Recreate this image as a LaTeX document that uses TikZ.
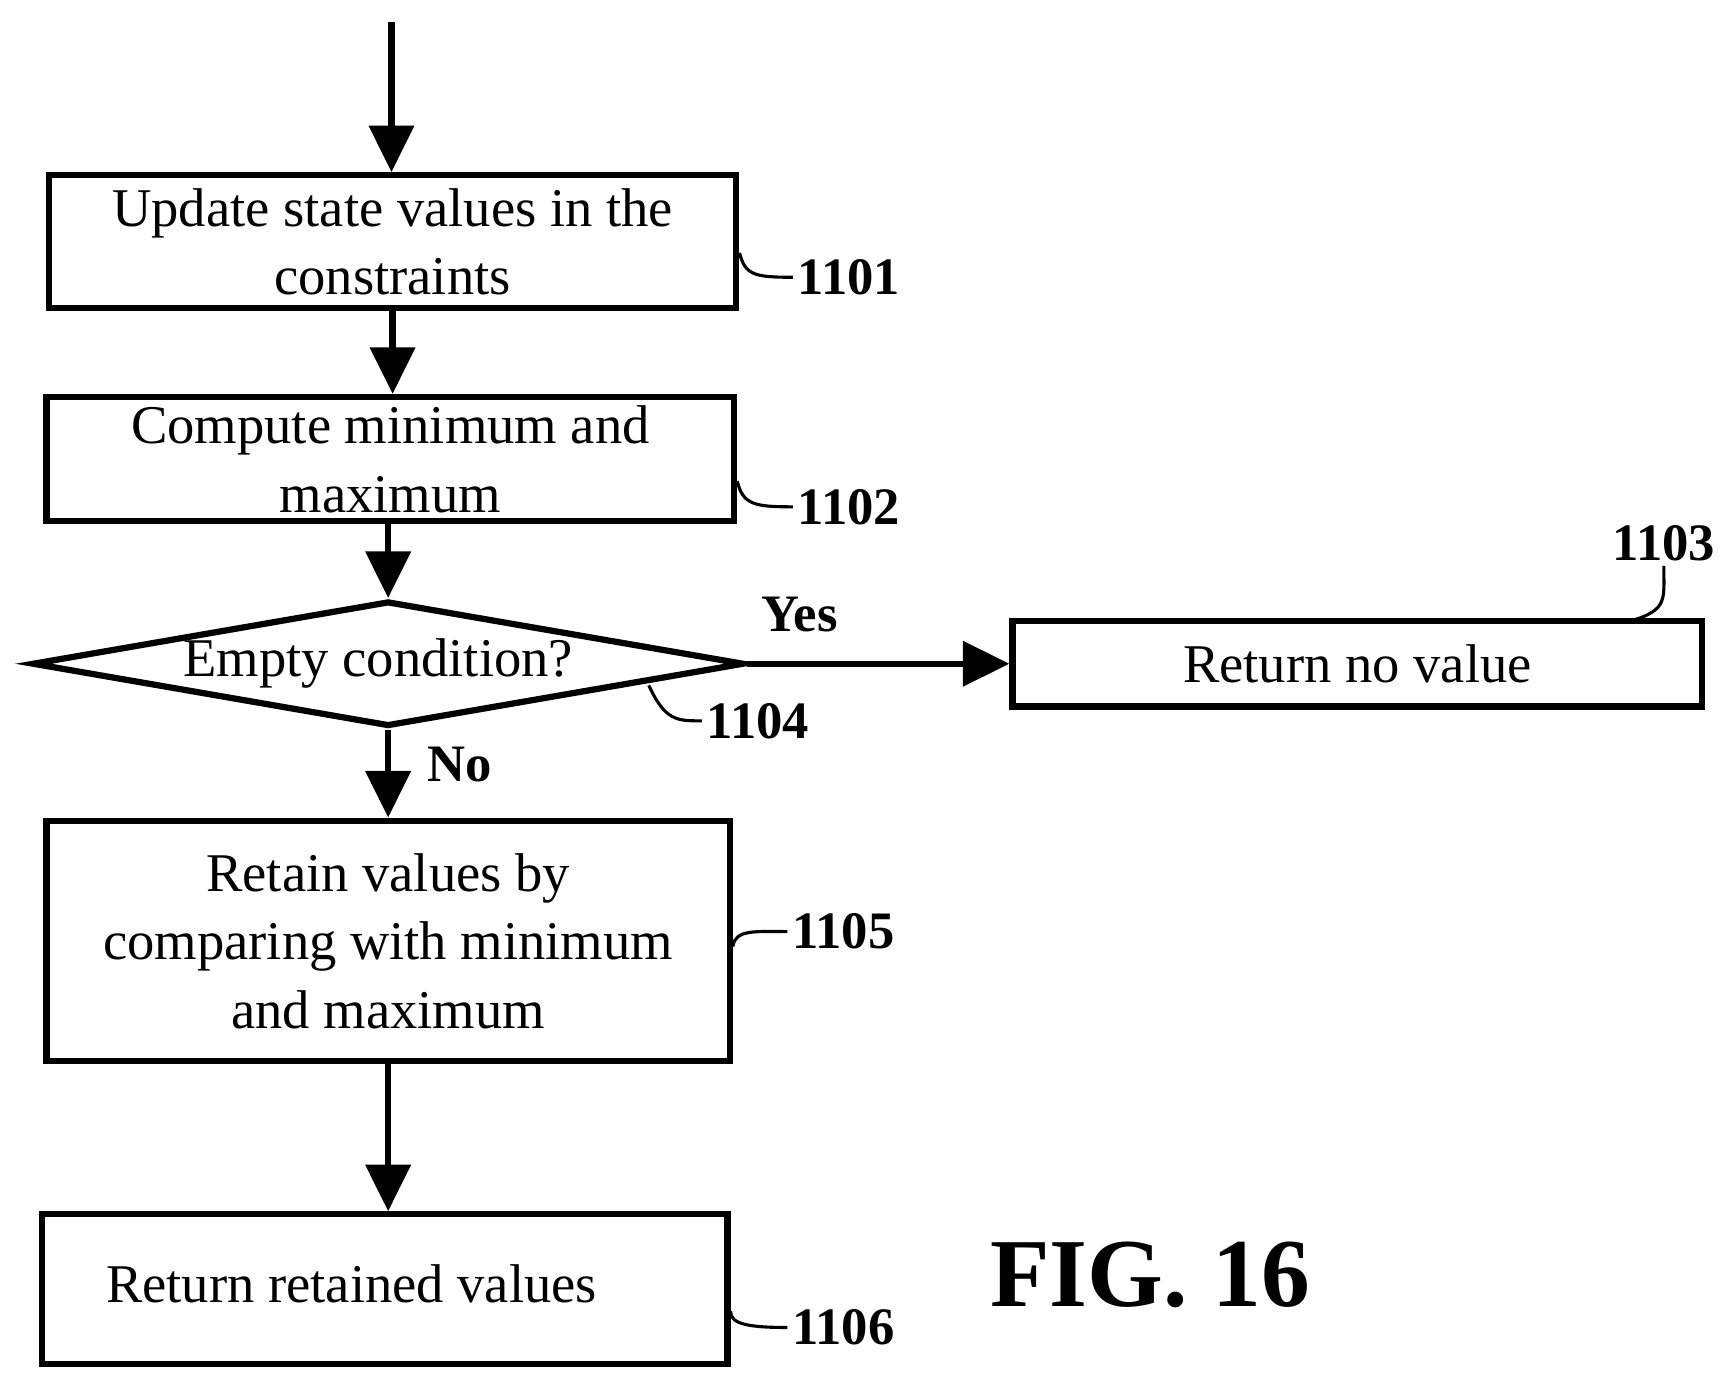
\documentclass[tikz,border=0pt]{standalone}
\usepackage{fontspec}
\setmainfont{Liberation Serif}
\usetikzlibrary{arrows.meta,shapes.geometric}

\tikzset{
    % Boxes and decision
    proc/.style={draw, line width=1.6pt, inner sep=0pt, font=\fontsize{14}{17.6}\selectfont, align=center},
    decision/.style={draw, diamond, line width=1.6pt, inner sep=0pt, aspect=5.7},
    % Flow arrows
    flow/.style={-{Triangle[length=0.42cm,width=0.4cm]}, line width=1.6pt},
    % Reference numerals
    ref/.style={font=\fontsize{13.5}{16}\selectfont\bfseries, anchor=west, inner sep=1pt},
    leader/.style={line width=0.8pt},
}

\begin{document}
\begin{tikzpicture}
    \useasboundingbox (0,0) rectangle (15.6,-12.46);

    % Steps
    \coordinate (start) at (3.53,-0.2);
    \node[proc, minimum width=6.2cm, minimum height=1.2cm] (update) at (3.54,-2.18) {Update state values in the\\constraints};
    \node[proc, minimum width=6.2cm, minimum height=1.12cm] (compute) at (3.52,-4.14) {Compute minimum and\\maximum};
    \node[decision, minimum width=6.42cm, minimum height=1.13cm] (empty) at (3.5,-5.985) {};
    \node[font=\fontsize{14}{16}\selectfont] at (3.41,-5.985) {Empty condition?};
    \node[proc, minimum width=6.22cm, minimum height=0.77cm] (novalue) at (12.24,-5.985) {Return no value};
    \node[proc, minimum width=6.16cm, minimum height=2.17cm] (retain) at (3.5,-8.485) {Retain values by\\comparing with minimum\\and maximum};
    \node[proc, minimum width=6.18cm, minimum height=1.35cm] (retained) at (3.47,-11.625) {};
    \node[font=\fontsize{14}{16}\selectfont] at (3.17,-11.58) {Return retained values};

    % Flow
    \draw[flow] (start) -- (start |- update.north);
    \draw[flow] (update.south) -- (update.south |- compute.north);
    \draw[flow] (empty.north |- compute.south) -- (empty.north);
    \draw[flow] (empty.east) -- (novalue.west) node[pos=0.2, above=4pt, font=\fontsize{13.5}{16}\selectfont\bfseries] {Yes};
    \draw[flow] (empty.south) -- (retain.north) node[pos=0.4, right=6pt, font=\fontsize{13.5}{16}\selectfont\bfseries] {No};
    \draw[flow] (retain.south) -- (retain.south |- retained.north);

    % Reference numerals
    \node[ref] (r1101) at (7.15,-2.5) {1101};
    \node[ref] (r1102) at (7.15,-4.57) {1102};
    \node[ref] (r1103) at (14.5,-4.9) {1103};
    \node[ref] (r1104) at (6.33,-6.5) {1104};
    \node[ref] (r1105) at (7.1,-8.4) {1105};
    \node[ref] (r1106) at (7.1,-11.97) {1106};
    \draw[leader] (update.east) ++(0,-0.1) .. controls (6.72,-2.48) and (6.8,-2.5) .. (r1101.west);
    \draw[leader] (compute.east) ++(0,-0.2) .. controls (6.7,-4.55) and (6.8,-4.57) .. (r1102.west);
    \draw[leader] (14.7,-5.6) .. controls (15.05,-5.5) and (15.0,-5.4) .. (r1103.south);
    \draw[leader] (5.85,-6.18) .. controls (6.0,-6.5) and (6.1,-6.5) .. (r1104.west);
    \draw[leader] (retain.east) ++(0,-0.05) .. controls (6.63,-8.38) and (6.8,-8.4) .. (r1105.west);
    \draw[leader] (retained.east) ++(0,-0.2) .. controls (6.58,-11.95) and (6.8,-11.97) .. (r1106.west);

    % Figure title
    \node[font=\fontsize{25}{30}\selectfont\bfseries] (title) at (10.37,-11.5) {FIG. 16};
\end{tikzpicture}
\end{document}
